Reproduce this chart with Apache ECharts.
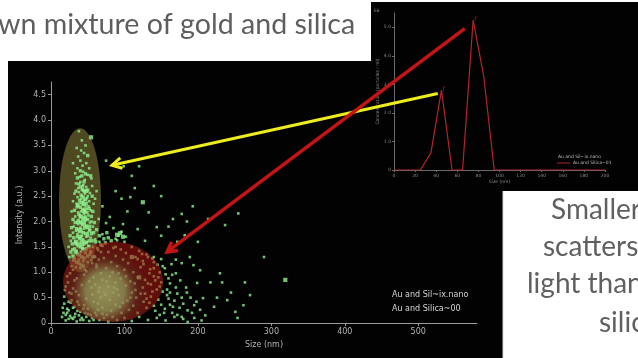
<!DOCTYPE html>
<html>
<head>
<meta charset="utf-8">
<script src="https://cdn.jsdelivr.net/npm/echarts@6/dist/echarts.min.js"></script>
<style>
  html, body { margin: 0; padding: 0; background: #ffffff; overflow: hidden; }
  #chart { width: 638px; height: 358px; }
</style>
</head>
<body>
<div id="chart"></div>
<script>
// ---- Scatter (main panel): size (nm) vs intensity (a.u.) ----
const columnPoints = [
  [38,3.78],[42,3.6],[35,3.45],[45,3.35],[40,3.2],[48,3.15],[36,3.05],[44,2.98],[50,2.92],[39,2.88],
  [46,2.82],[33,2.95],[52,3.05],[41,3.4],[37,3.28],[47,3.5],[43,3.1],[55,2.85],[30,3.15],[34,2.75],
  [40,2.78],[44,2.72],[48,2.68],[42,2.62],[38,2.58],[46,2.55],[50,2.5],[36,2.48],[41,2.45],[45,2.42],
  [52,2.4],[39,2.36],[43,2.33],[47,2.3],[35,2.28],[49,2.25],[54,2.22],[41,2.2],[37,2.18],[45,2.15],
  [51,2.12],[33,2.1],[39,2.08],[43,2.05],[47,2.02],[55,2.0],[36,1.98],[42,1.95],[48,1.92],[31,1.9],
  [40,1.88],[45,1.86],[52,1.84],[34,1.82],[38,1.8],[44,2.6],[49,2.46],[37,2.66],[53,2.56],[30,2.4],
  [58,2.35],[56,2.7],[60,2.45],[32,2.55],[44,2.38],[40,2.12],[46,1.96],[50,1.78],[57,1.9],[28,2.2],
  [30,1.78],[36,1.75],[42,1.72],[48,1.7],[54,1.68],[60,1.65],[27,1.62],[33,1.6],[39,1.58],[45,1.55],
  [51,1.52],[57,1.5],[63,1.48],[29,1.45],[35,1.42],[41,1.4],[47,1.38],[53,1.35],[59,1.32],[25,1.3],
  [32,1.28],[38,1.25],[44,1.22],[50,1.2],[56,1.18],[62,1.15],[28,1.12],[34,1.1],[40,1.08],[46,1.05],
  [66,1.6],[68,1.4],[70,1.75],[24,1.5],[65,1.25],[42,2.5],[38,2.3],[46,2.25],[43,2.7],[39,2.0],
  [44,1.65],[36,1.55],[49,1.6],[41,1.85],[47,2.1],[35,2.35],[43,1.48],[51,2.3],[37,1.95],[53,1.98]
];
// Dense bright core of the silica column
const columnCore = [
  [40,2.68],[43,2.64],[46,2.6],[41,2.52],[44,2.48],[47,2.44],[39,2.42],[42,2.38],[45,2.34],[48,2.36],
  [40,2.28],[43,2.24],[46,2.2],[49,2.18],[38,2.14],[41,2.1],[44,2.08],[47,2.06],[50,2.04],[37,2.02],
  [40,1.98],[43,1.94],[46,1.9],[49,1.88],[35,1.86],[38,1.84],[41,1.8],[44,1.78],[47,1.76],[50,1.72],
  [36,1.7],[39,1.66],[42,1.62],[45,1.6],[48,1.58],[34,1.56],[37,1.52],[40,1.5],[43,1.46],[46,1.44],
  [33,1.4],[36,1.36],[39,1.34],[42,1.3],[45,1.28],[31,1.24],[35,1.2],[38,1.18],[41,1.14],[44,1.12],
  [42,2.9],[45,2.78],[38,2.74],[50,2.62],[36,2.32],[52,2.26],[33,1.98],[53,1.82],[31,1.68],[52,1.5],
  [56,1.62],[58,1.78],[62,1.84],[66,1.72],[72,1.66],[78,1.68],[82,1.62],[76,1.78],[68,1.54],[74,1.58],
  [28,1.88],[26,1.72],[29,1.56],[27,1.4],[30,2.04],[32,2.22],[55,2.1],[57,2.2],[59,1.98],[61,1.6],
  [54,1.4],[57,1.3],[50,1.32],[48,1.46],[52,1.62],[55,1.76],[32,1.46],[30,1.32],[56,2.5],[34,2.6],
  [54,2.9],[50,3.3],[40,3.0],[36,2.86],[47,2.94]
];
const basePoints = [
  [70,1.52],[85,1.48],[95,1.45],[110,1.5],[120,1.42],[78,1.4],[102,1.38],[130,1.35],[64,1.44],
  [60,1.3],[72,1.28],[88,1.32],[98,1.25],[115,1.3],[125,1.22],[138,1.27],[82,1.2],[105,1.18],[145,1.15],[55,1.24],
  [30,1.05],[48,1.02],[62,1.1],[75,1.08],[90,1.12],[100,1.05],[112,1.0],[122,1.1],[135,1.06],[148,1.0],[155,1.08],[68,0.98],[84,1.0],
  [22,0.92],[35,0.88],[45,0.95],[58,0.9],[70,0.85],[80,0.92],[95,0.88],[108,0.82],[118,0.9],[128,0.85],[140,0.92],[150,0.8],[160,0.88],[88,0.8],[52,0.82],[165,0.95],
  [20,0.72],[30,0.68],[42,0.75],[55,0.7],[65,0.62],[78,0.72],[90,0.66],[102,0.74],[115,0.65],[125,0.7],[138,0.62],[148,0.72],[158,0.66],[170,0.7],[85,0.6],[60,0.76],[110,0.6],[132,0.78],
  [18,0.52],[28,0.45],[38,0.55],[48,0.48],[58,0.42],[68,0.5],[80,0.46],[92,0.55],[104,0.44],[116,0.5],[126,0.42],[136,0.52],[146,0.46],[158,0.55],[168,0.44],[178,0.5],[74,0.56],[98,0.4],[122,0.58],
  [16,0.3],[24,0.25],[32,0.32],[40,0.22],[50,0.28],[60,0.2],[70,0.3],[82,0.24],[94,0.32],[106,0.26],[118,0.2],[130,0.3],[142,0.24],[155,0.28],[165,0.2],[175,0.3],[186,0.25],[45,0.35],[88,0.36],[112,0.34],
  [15,0.12],[20,0.05],[26,0.14],[30,0.08],[35,0.03],[38,0.15],[44,0.06],[48,0.12],[52,0.04],[56,0.1],[62,0.15],[66,0.06],[72,0.1],[78,0.03],[84,0.12],[90,0.06],[100,0.1],[110,0.04],[120,0.12],[132,0.06],[144,0.1],[156,0.05],[168,0.12],[180,0.08],[195,0.1],[205,0.05],
  [18,0.38],[22,0.2],[27,0.4],[33,0.18],[36,0.42],[42,0.1],[46,0.2],[54,0.16],[25,0.6],[19,0.65],[23,0.8],
  [64,0.38],[76,0.16],[96,0.2],[108,0.5],[134,0.4],[152,0.62],[162,0.36],[172,0.58],[142,0.84],[126,1.16],
  [92,0.98],[76,0.82],[66,0.7],[114,0.78],[102,0.92],[86,0.7],[56,0.56],[128,0.58],[150,0.36],[162,0.78],
  [140,1.2],[152,1.12],[134,0.98],[146,0.9],[156,0.96],[162,0.6],[160,0.48],[154,0.2],[166,0.32],[172,0.16],
  [132,1.3],[124,1.36],[118,1.26],[140,1.08],[150,1.26],[144,0.66],[136,0.76],[130,0.48],[140,0.34],[148,0.16],
  [26,0.98],[32,0.84],[28,0.58],[34,0.62],[24,0.42],[30,0.3],[38,0.36],[22,0.28],[17,0.2],[28,0.1],
  [20,0.16],[24,0.08],[32,0.12],[36,0.24],[40,0.06],[44,0.28],[50,0.18],[58,0.06],[64,0.26],[70,0.18],
  [180,0.38],[184,0.7],[176,0.84],[190,0.5],[192,0.2],[170,0.98],[178,0.12],[186,0.02],[198,0.42],[164,1.16]
];
const sparsePoints = [
  [120,3.09],[99,3.09],[178,2.15],[193,2.3],[166,2.05],[182,1.73],[110,2.9],[108,2.48],[114,2.66],
  [133,2.18],[144,1.89],[85,1.87],[90,1.63],[75,1.97],[80,2.09],[189,1.3],[178,1.18],[194,1.14],
  [230,0.98],[233,0.8],[264,0.8],[290,1.3],[271,0.55],[226,0.5],[240,0.45],[251,0.22],[254,0.1],
  [203,0.26],[203,1.04],[207,0.49],[217,0.8],[199,0.79],[255,2.16],[237,1.93],[214,2.05],
  [160,1.45],[172,1.6],[150,1.72],[140,1.3],[128,1.62],[118,1.85],[104,2.2],[96,2.45],[88,2.6],
  [70,2.3],[65,2.05],[150,2.5],[160,1.9],[185,0.6],[195,0.35],[210,0.15],[222,0.32],[245,0.6],
  [262,0.35],[98,1.95],[102,1.7],[88,1.5],[75,3.2],[62,2.6],[170,1.25],[200,1.6],[185,2.0],[140,2.7],
  [92,1.72],[96,1.8],[88,1.66],[100,1.6]
];
const largePoints = [
  [54.5,3.66],[125,2.38],[94,1.77],[319,0.85],[45,2.2],[48,2.6],[40,1.7],[110,1.3],[120,0.9],
  [44,2.0],[42,1.55],[90,1.74],[98,1.7],[52,1.9],[34,1.6]
];

// ---- Line (inset panel): size (nm) vs concentration (E6 particles / ml) ----
const insetSizes  = [0, 25, 35, 45, 55, 65, 75, 85, 95, 200];
const insetConc   = [0, 0, 0.6, 2.8, 0, 0, 5.25, 3.3, 0, 0];

// ---- Axis ticks ----
const mainXTicks  = [0, 100, 200, 300, 400, 500];
const mainYTicks  = [0, 0.5, 1.0, 1.5, 2.0, 2.5, 3.0, 3.5, 4.0, 4.5];
const insetXTicks = [0, 20, 40, 60, 80, 100, 120, 140, 160, 180, 200];
const insetYTicks = [0, 1, 2, 3, 4, 5];

// ---- Highlighted regions in the scatter (data units: centre x, centre y, radius x, radius y) ----
const silicaRegion = [39.5, 2.42, 28.6, 1.42];
const goldRegion   = [84.5, 0.81, 68, 0.79];

// ---- Arrows from inset peaks to scatter regions (inset data -> main data) ----
const silicaArrow = { from: [41.5, 2.68], to: [83, 3.11] };
const goldArrow   = { from: [67, 4.95],  to: [158, 1.40] };

// ---- Slide text ----
const headline    = 'wn mixture of gold and silica';
const noteLines   = ['Smaller', 'scatters', 'light than', 'silica'];

const chart = echarts.init(document.getElementById('chart'), null, { renderer: 'canvas' });

const axisGrey = '#9a9a9a';
const labelGrey = '#b4b4b4';
const tinyFont = 'DejaVu Sans';
const green = '#8ef08e';

function ellipseSeries(name, region, fill, z) {
  return {
    type: 'custom', name, xAxisIndex: 0, yAxisIndex: 0, z, silent: true, clip: false,
    data: [region],
    renderItem(params, api) {
      const c = api.coord([api.value(0), api.value(1)]);
      const s = api.size([api.value(2), api.value(3)]);
      return {
        type: 'path',
        shape: {
          pathData: 'M0,1A1,1 0 1,0 2,1A1,1 0 1,0 0,1Z',
          x: c[0] - s[0], y: c[1] - s[1], width: 2 * s[0], height: 2 * s[1], layout: 'cover'
        },
        style: { fill }
      };
    }
  };
}

function pointSeries(data, size) {
  return {
    type: 'scatter', name: 'Au and Silica~00', xAxisIndex: 0, yAxisIndex: 0, z: 2,
    symbol: 'rect', symbolSize: size, silent: true,
    itemStyle: { color: green },
    data
  };
}

const fmt1 = v => (v === 0 ? '0' : v.toFixed(1));

chart.setOption({
  animation: false,
  backgroundColor: 'transparent',
  grid: [
    { left: 51, right: 161, top: 82, bottom: 35 },
    { left: 394, right: 33, top: 13, bottom: 188 }
  ],
  xAxis: [
    {
      gridIndex: 0, type: 'value', min: 0, max: 580,
      name: 'Size (nm)', nameLocation: 'middle', nameGap: 17,
      nameTextStyle: { color: labelGrey, fontSize: 8, fontFamily: tinyFont },
      axisLine: { lineStyle: { color: axisGrey, width: 1 } },
      axisTick: { show: true, length: 3, customValues: mainXTicks, lineStyle: { color: axisGrey } },
      axisLabel: { customValues: mainXTicks, color: labelGrey, fontSize: 8, fontFamily: tinyFont, margin: 5 },
      splitLine: { show: false }
    },
    {
      gridIndex: 1, type: 'value', min: 0, max: 200,
      name: 'Size (nm)', nameLocation: 'middle', nameGap: 8,
      nameTextStyle: { color: '#8a8a8a', fontSize: 4.5, fontFamily: tinyFont },
      axisLine: { lineStyle: { color: '#6a6a6a', width: 1 } },
      axisTick: { show: true, length: 2, customValues: insetXTicks, lineStyle: { color: '#6a6a6a' } },
      axisLabel: { customValues: insetXTicks, color: '#8a8a8a', fontSize: 4.5, fontFamily: tinyFont, margin: 3 },
      splitLine: { show: false }
    }
  ],
  yAxis: [
    {
      gridIndex: 0, type: 'value', min: 0, max: 4.75,
      axisLine: { show: true, lineStyle: { color: axisGrey, width: 1 } },
      axisTick: { show: true, length: 3, customValues: mainYTicks, lineStyle: { color: axisGrey } },
      axisLabel: { customValues: mainYTicks, formatter: fmt1, color: labelGrey, fontSize: 8, fontFamily: tinyFont, margin: 5 },
      splitLine: { show: false }
    },
    {
      gridIndex: 1, type: 'value', min: 0, max: 5.5,
      name: 'Concentration (particles / ml)', nameLocation: 'middle', nameGap: 14, nameRotate: 90,
      nameTextStyle: { color: '#8a8a8a', fontSize: 4.5, fontFamily: tinyFont },
      axisLine: { show: true, lineStyle: { color: '#6a6a6a', width: 1 } },
      axisTick: { show: true, length: 2, customValues: insetYTicks, lineStyle: { color: '#6a6a6a' } },
      axisLabel: { customValues: insetYTicks, formatter: fmt1, color: '#8a8a8a', fontSize: 4.5, fontFamily: tinyFont, margin: 3 },
      splitLine: { show: false }
    }
  ],
  series: [
    ellipseSeries('silica region', silicaRegion, 'rgba(170,160,70,0.45)', 1),
    pointSeries(columnPoints.concat(basePoints, sparsePoints), 2.6),
    pointSeries(columnCore, 3.4),
    pointSeries(largePoints, 4.2),
    ellipseSeries('gold region', goldRegion, {
      type: 'radial', x: 0.42, y: 0.62, r: 0.58,
      colorStops: [
        { offset: 0, color: 'rgba(160,156,95,0.92)' },
        { offset: 0.42, color: 'rgba(152,140,84,0.86)' },
        { offset: 0.7, color: 'rgba(145,50,32,0.62)' },
        { offset: 1, color: 'rgba(175,22,18,0.55)' }
      ]
    }, 3),
    {
      type: 'line', name: 'Au and Silica~01', xAxisIndex: 1, yAxisIndex: 1,
      data: insetSizes.map((s, i) => [s, insetConc[i]]),
      showSymbol: false, silent: true,
      lineStyle: { color: '#b8222c', width: 1.2 }
    }
  ]
});

// Pixel helpers for annotations built from the axes above
const pMain  = v => chart.convertToPixel({ gridIndex: 0 }, v);
const pInset = v => chart.convertToPixel({ gridIndex: 1 }, v);

function arrow(from, to, color, width, head) {
  const dx = to[0] - from[0], dy = to[1] - from[1];
  const len = Math.hypot(dx, dy), ux = dx / len, uy = dy / len;
  const ang = 0.5;
  const rot = (a) => [ -(ux * Math.cos(a) - uy * Math.sin(a)) * head, -(ux * Math.sin(a) + uy * Math.cos(a)) * head ];
  const l = rot(ang), r = rot(-ang);
  return [
    { type: 'line', z: 100, shape: { x1: from[0], y1: from[1], x2: to[0], y2: to[1] },
      style: { stroke: color, lineWidth: width, lineCap: 'butt' } },
    { type: 'polyline', z: 100,
      shape: { points: [[to[0] + l[0], to[1] + l[1]], to, [to[0] + r[0], to[1] + r[1]]] },
      style: { stroke: color, lineWidth: width, fill: null, lineJoin: 'miter' } }
  ];
}

const yFrom = pInset(silicaArrow.from), yTo = pMain(silicaArrow.to);
const rFrom = pInset(goldArrow.from),   rTo = pMain(goldArrow.to);
const peak1 = pInset([insetSizes[3], insetConc[3]]);
const peak2 = pInset([insetSizes[6], insetConc[6]]);

const graphics = [
  // slide panels
  { type: 'rect', z: -10, shape: { x: 8, y: 61, width: 495, height: 297 }, style: { fill: '#020202' } },
  { type: 'rect', z: -10, shape: { x: 371, y: 2, width: 267, height: 189 }, style: { fill: '#020202' } },
  { type: 'line', z: -9, shape: { x1: 503, y1: 191, x2: 503, y2: 358 }, style: { stroke: '#d8d8d8', lineWidth: 1 } },
  // headline and note (text boxes anchored at their top edge)
  { type: 'text', z: 50, x: -2, y: 10, style: { text: headline, font: '28.6px Lato', fill: '#5e5e5e', verticalAlign: 'top' } },
  ...noteLines.map((t, i) => ({
    type: 'text', z: 50, x: [551, 543, 527, 599][i], y: [196, 233, 270, 309][i],
    style: { text: t, font: '28px Lato', fill: '#606060', verticalAlign: 'top' }
  })),
  // main axis title (rotated)
  { type: 'text', z: 50, x: 20, y: 215, rotation: Math.PI / 2,
    style: { text: 'Intensity (a.u.)', font: '8px "DejaVu Sans"', fill: labelGrey, align: 'center', verticalAlign: 'middle' } },
  // main legend
  { type: 'text', z: 50, x: 392, y: 295, style: { text: 'Au and Sil~ix.nano', font: '8px "DejaVu Sans"', fill: '#d8d8d8', verticalAlign: 'middle' } },
  { type: 'text', z: 50, x: 392, y: 309, style: { text: 'Au and Silica~00', font: '8px "DejaVu Sans"', fill: '#d8d8d8', verticalAlign: 'middle' } },
  // inset legend and exponent
  { type: 'text', z: 50, x: 558, y: 157, style: { text: 'Au and Sil~ix.nano', font: '4.5px "DejaVu Sans"', fill: '#bdbdbd', verticalAlign: 'middle' } },
  { type: 'line', z: 50, shape: { x1: 557, y1: 163, x2: 570, y2: 163 }, style: { stroke: '#b3202a', lineWidth: 1 } },
  { type: 'text', z: 50, x: 573, y: 163, style: { text: 'Au and Silica~01', font: '4.5px "DejaVu Sans"', fill: '#bdbdbd', verticalAlign: 'middle' } },
  { type: 'text', z: 50, x: 374, y: 11, style: { text: 'E6', font: '4.5px "DejaVu Sans"', fill: '#8a8a8a', verticalAlign: 'middle' } },
  // peak markers on the inset curve
  { type: 'text', z: 50, x: peak1[0] + 1, y: peak1[1] - 1, style: { text: 'Γ', font: '6px "DejaVu Sans"', fill: '#b3202a', verticalAlign: 'middle' } },
  { type: 'text', z: 50, x: peak2[0] + 1, y: peak2[1] - 1, style: { text: 'Γ', font: '6px "DejaVu Sans"', fill: '#b3202a', verticalAlign: 'middle' } },
  // arrows
  ...arrow(yFrom, yTo, '#ecec1e', 3, 11),
  ...arrow(rFrom, rTo, '#c41414', 3.5, 11)
];

chart.setOption({ graphic: graphics });
</script>
</body>
</html>
